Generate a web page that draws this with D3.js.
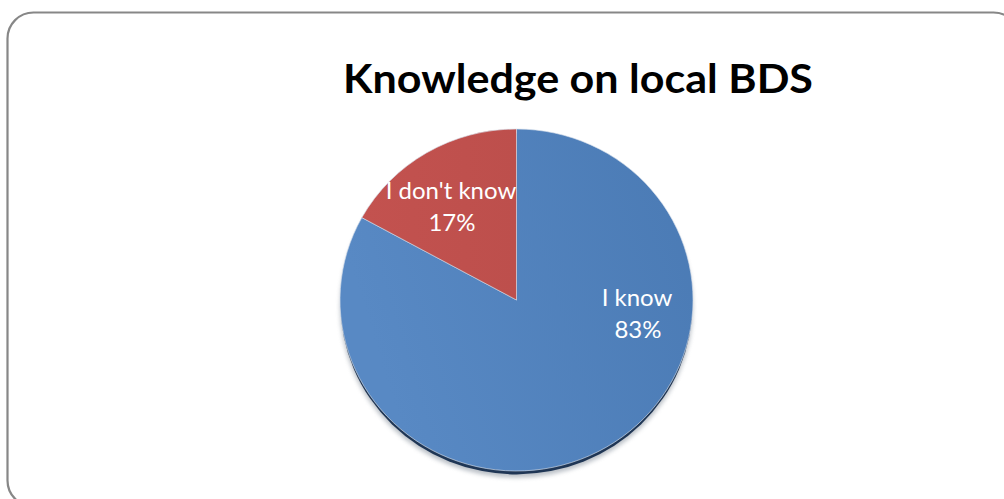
<!DOCTYPE html>
<html>
<head>
<meta charset="utf-8">
<script src="https://cdn.jsdelivr.net/npm/d3@7"></script>
<style>
  html, body { margin: 0; padding: 0; background: #ffffff; }
  svg { display: block; }
</style>
</head>
<body>
<div id="chart"></div>
<script>
// Survey answers and their shares
const categories = ["I know", "I don't know"];
const shares = [83, 17];
const chartTitle = "Knowledge on local BDS";

const W = 1004, H = 499;
const svg = d3.select("#chart").append("svg")
  .attr("width", W).attr("height", H);

const defs = svg.append("defs");

// soft shading across the slices
const gBlue = defs.append("linearGradient").attr("id", "gradBlue")
  .attr("x1", "0%").attr("y1", "30%").attr("x2", "100%").attr("y2", "0%");
gBlue.append("stop").attr("offset", "0%").attr("stop-color", "#5889C4");
gBlue.append("stop").attr("offset", "100%").attr("stop-color", "#4A7AB4");

const gRed = defs.append("linearGradient").attr("id", "gradRed")
  .attr("x1", "0%").attr("y1", "0%").attr("x2", "100%").attr("y2", "0%");
gRed.append("stop").attr("offset", "0%").attr("stop-color", "#C3524F");
gRed.append("stop").attr("offset", "100%").attr("stop-color", "#BD4F4C");

const fills = ["url(#gradBlue)", "url(#gradRed)"];

defs.append("filter").attr("id", "soft")
  .attr("x", "-10%").attr("y", "-10%").attr("width", "120%").attr("height", "130%")
  .append("feGaussianBlur").attr("stdDeviation", 2.2);

// rounded chart frame
svg.append("rect")
  .attr("x", 7.5).attr("y", 12.5)
  .attr("width", 1012).attr("height", 494)
  .attr("rx", 26).attr("ry", 26)
  .attr("fill", "#ffffff")
  .attr("stroke", "#878787")
  .attr("stroke-width", 2.2);

// title
svg.append("text")
  .attr("x", 578).attr("y", 93)
  .attr("text-anchor", "middle")
  .attr("font-family", "Lato, 'Open Sans', sans-serif")
  .attr("font-weight", "bold")
  .attr("font-size", 41)
  .attr("fill", "#000000")
  .attr("textLength", 470)
  .attr("lengthAdjust", "spacingAndGlyphs")
  .text(chartTitle);

// pie geometry
const cx = 516.5, cy = 300, rx = 176.5, ry = 171;
const r = rx;

const pie = d3.pie()
  .value(d => d.value)
  .sort(null)
  .startAngle(0)
  .endAngle(2 * Math.PI);

// "I don't know" ends at 12 o'clock, so slices run clockwise starting with "I know"
const data = categories.map((c, i) => ({ name: c, value: shares[i], color: fills[i] }));
const arcs = pie(data);

const arc = d3.arc().innerRadius(0).outerRadius(r);

const pieG = svg.append("g")
  .attr("transform", `translate(${cx},${cy}) scale(1,${ry / rx})`);

// shadow beneath the pie
pieG.append("circle")
  .attr("cx", 0).attr("cy", 7).attr("r", r)
  .attr("fill", "#8f98a3")
  .attr("opacity", 0.6)
  .attr("filter", "url(#soft)");
pieG.append("circle")
  .attr("cx", 0).attr("cy", 4).attr("r", r - 0.5)
  .attr("fill", "#1F3655");

pieG.selectAll("path.slice")
  .data(arcs)
  .enter().append("path")
  .attr("class", "slice")
  .attr("d", arc)
  .attr("fill", d => d.data.color)
  .attr("stroke", "#d9e1ec")
  .attr("stroke-width", 0.8)
  .attr("stroke-opacity", 0.8);

// slice labels
const labelPos = {
  "I know": [637, 306, 338],
  "I don't know": [451, 199, 231]
};
const labelG = svg.append("g")
  .attr("font-family", "Lato, 'Open Sans', sans-serif")
  .attr("font-size", 24)
  .attr("fill", "#ffffff")
  .attr("text-anchor", "middle");

arcs.forEach(a => {
  const p = labelPos[a.data.name];
  const pct = Math.round(a.data.value / d3.sum(shares) * 100) + "%";
  labelG.append("text").attr("x", p[0]).attr("y", p[1]).text(a.data.name);
  labelG.append("text").attr("x", p[0] + 1).attr("y", p[2]).text(pct);
});
</script>
</body>
</html>
